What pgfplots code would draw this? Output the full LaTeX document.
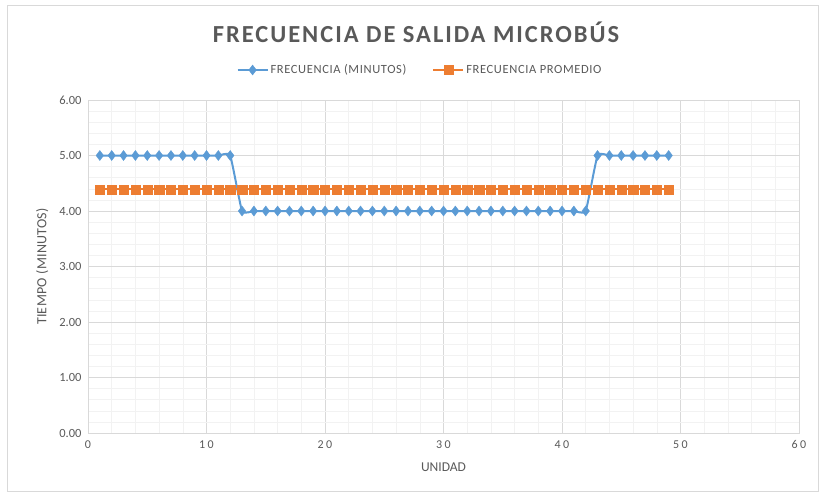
\documentclass[border=0pt]{standalone}
\usepackage{fontspec}
\setmainfont{Carlito}
\usepackage{pgfplots}
\pgfplotsset{compat=1.18}
\usetikzlibrary{plotmarks}
\definecolor{cblue}{HTML}{5B9BD5}
\definecolor{corange}{HTML}{ED7D31}
\definecolor{ctext}{HTML}{595959}
\definecolor{cgrid}{HTML}{D9D9D9}
\definecolor{cminor}{HTML}{F2F2F2}
\definecolor{cframe}{HTML}{D9D9D9}
\begin{document}
\begin{tikzpicture}[x=1pt,y=1pt]
\path[use as bounding box] (0,0) rectangle (825,493);
\draw[cframe] (7.5,1.5) rectangle (818.5,488);
\node[font=\fontsize{24.5}{28}\selectfont\bfseries, text=ctext] at (416,461) {\addfontfeature{LetterSpace=8}FRECUENCIA DE SALIDA MICROBÚS};
\begin{axis}[
  at={(88pt,60pt)}, anchor=south west, scale only axis,
  width=711pt, height=333pt,
  xmin=0, xmax=60, ymin=0, ymax=6,
  xtick={0,10,...,60}, ytick={0,1,...,6},
  minor x tick num=4, minor y tick num=4,
  grid=both,
  major grid style={cgrid, line width=0.6pt},
  minor grid style={cminor, line width=0.6pt},
  axis line style={cgrid, line width=0.8pt},
  major tick length=0pt, minor tick length=0pt,
  /pgf/number format/assume math mode=true,
  yticklabel style={font=\fontsize{12.5}{14}\selectfont, text=ctext, xshift=-3pt, /pgf/number format/.cd, fixed, fixed zerofill, precision=2},
  xticklabel style={font=\fontsize{12}{14}\selectfont\addfontfeature{LetterSpace=20}, text=ctext, yshift=-4pt},
  xlabel={UNIDAD}, ylabel={TIEMPO (MINUTOS)},
  xlabel style={font=\fontsize{13.5}{15}\selectfont, text=ctext, yshift=-7pt},
  ylabel style={font=\fontsize{14}{16}\selectfont\addfontfeature{LetterSpace=2}, text=ctext, yshift=4pt},
  legend columns=2,
  legend style={at={(0.467,1.09)}, anchor=center, draw=none, fill=none,
    font=\fontsize{12.5}{14}\selectfont\addfontfeature{LetterSpace=5}, text=ctext,
    /tikz/every even column/.append style={column sep=24pt}},
  legend image code/.code={\draw[#1, mark repeat=2, mark phase=2] plot coordinates {(0pt,0pt) (15pt,0pt) (30pt,0pt)};},
  clip=false,
]
\addplot[cblue, line width=2pt, smooth, tension=0.25, mark=diamond*, mark size=5pt, mark options={solid, fill=cblue, draw=cblue, line width=0.4pt}] coordinates {
(1,5) (2,5) (3,5) (4,5) (5,5) (6,5) (7,5) (8,5) (9,5) (10,5) (11,5) (12,5)
(13,4) (14,4) (15,4) (16,4) (17,4) (18,4) (19,4) (20,4) (21,4) (22,4) (23,4) (24,4) (25,4) (26,4) (27,4) (28,4) (29,4) (30,4) (31,4) (32,4) (33,4) (34,4) (35,4) (36,4) (37,4) (38,4) (39,4) (40,4) (41,4) (42,4)
(43,5) (44,5) (45,5) (46,5) (47,5) (48,5) (49,5)
};
\addlegendentry{FRECUENCIA (MINUTOS)}
\addplot[corange, line width=2pt, mark=square*, mark size=4.6pt, mark options={solid, fill=corange, draw=corange, line width=0.3pt}] coordinates {
(1,4.39) (2,4.39) (3,4.39) (4,4.39) (5,4.39) (6,4.39) (7,4.39) (8,4.39) (9,4.39) (10,4.39) (11,4.39) (12,4.39) (13,4.39) (14,4.39) (15,4.39) (16,4.39) (17,4.39) (18,4.39) (19,4.39) (20,4.39) (21,4.39) (22,4.39) (23,4.39) (24,4.39) (25,4.39) (26,4.39) (27,4.39) (28,4.39) (29,4.39) (30,4.39) (31,4.39) (32,4.39) (33,4.39) (34,4.39) (35,4.39) (36,4.39) (37,4.39) (38,4.39) (39,4.39) (40,4.39) (41,4.39) (42,4.39) (43,4.39) (44,4.39) (45,4.39) (46,4.39) (47,4.39) (48,4.39) (49,4.39)
};
\addlegendentry{FRECUENCIA PROMEDIO}
\end{axis}
\end{tikzpicture}
\end{document}
